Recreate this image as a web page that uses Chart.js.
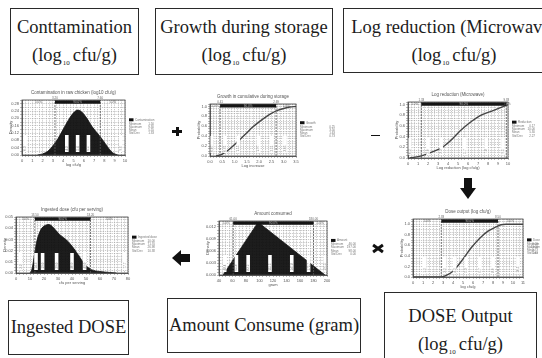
<!DOCTYPE html>
<html>
<head>
<meta charset="utf-8">
<script src="https://cdn.jsdelivr.net/npm/chart.js@4/dist/chart.umd.min.js"></script>
<style>
  html, body { margin: 0; padding: 0; background: #fff; }
  #stage { position: relative; width: 542px; height: 358px; overflow: hidden; background: #fff;
           font-family: "Liberation Serif", "Times New Roman", serif; color: #1c1c1c; }
  .box { position: absolute; box-sizing: border-box; border: 1.3px solid #2a2a2a; text-align: center;
         font-size: 18.5px; line-height: 28px; white-space: nowrap; }
  .box sub { font-size: 7px; vertical-align: -4px; line-height: 0; margin: 0 3px 0 1px; }
  canvas { position: absolute; }
  .shape { position: absolute; background: #111; }
  .tri { position: absolute; width: 0; height: 0; }
</style>
</head>
<body>
<div id="stage">
  <div class="box" style="left:10px;top:8px;width:129px;height:67px;padding-top:4px;">Conttamination<br>(log<sub>10</sub>cfu/g)</div>
  <div class="box" style="left:155px;top:8px;width:178px;height:67px;padding-top:4px;">Growth during storage<br>(log<sub>10</sub>cfu/g)</div>
  <div class="box" style="left:343px;top:8px;width:222px;height:65px;padding-top:4px;">Log reduction (Microwave)<br>(log<sub>10</sub>cfu/g)</div>
  <div class="box" style="left:8px;top:300px;width:121px;height:55px;padding-top:12px;">Ingested DOSE</div>
  <div class="box" style="left:167px;top:298px;width:194px;height:55px;padding-top:12px;">Amount Consume (gram)</div>
  <div class="box" style="left:384px;top:292px;width:153px;height:80px;padding-top:9px;">DOSE Output<br>(log<sub>10</sub>cfu/g)</div>

  <!-- operators between the model steps -->
  <div class="shape" style="left:172px;top:130px;width:10px;height:3px;"></div>
  <div class="shape" style="left:175.5px;top:127px;width:3px;height:9px;"></div>
  <div class="shape" style="left:371px;top:134.5px;width:9px;height:1.3px;"></div>
  <div class="shape" style="left:372px;top:246.5px;width:12px;height:3px;transform:rotate(35deg);"></div>
  <div class="shape" style="left:372px;top:246.5px;width:12px;height:3px;transform:rotate(-35deg);"></div>
  <div class="shape" style="left:464px;top:178px;width:8px;height:10px;"></div>
  <div class="tri" style="left:460px;top:188px;border-left:8px solid transparent;border-right:8px solid transparent;border-top:11px solid #111;"></div>
  <div class="tri" style="left:172px;top:250px;border-top:8px solid transparent;border-bottom:8px solid transparent;border-right:9px solid #111;"></div>
  <div class="shape" style="left:180px;top:254px;width:10px;height:8px;"></div>
</div>

<script>
// ---------------- model inputs and outputs ----------------
// Contamination (log10 cfu/g): density
const contamX = [1.5, 2.0, 2.5, 3.0, 3.5, 4.0, 4.5, 5.0, 5.4, 5.8, 6.3, 6.8, 7.3, 7.8, 8.3, 8.8, 9.3];
const contamY = [0.000, 0.006, 0.020, 0.050, 0.090, 0.140, 0.190, 0.230, 0.245, 0.235, 0.200, 0.155, 0.120, 0.085, 0.045, 0.012, 0.000];
const contamBar = [3.2, 7.6];
const contamMarks = [0.3, 4.35, 5.4, 6.45, 9.6];

// Growth during storage (log increase): cumulative
const growthX = [0.25, 0.5, 0.75, 1.0, 1.25, 1.5, 1.75, 2.0, 2.25, 2.5, 2.75, 3.0, 3.25, 3.5];
const growthY = [0.00, 0.04, 0.12, 0.23, 0.35, 0.47, 0.59, 0.69, 0.78, 0.86, 0.92, 0.96, 0.99, 1.00];
const growthBar = [0.41, 2.69];
const growthMarks = [0.07, 0.61, 1.15, 1.97, 2.51, 3.05];

// Log reduction by microwave: cumulative
const reductionX = [0.17, 1.33, 2.5, 3.5, 4.5, 5.17, 6.17, 7.17, 8.5, 10.0];
const reductionY = [0.00, 0.04, 0.12, 0.21, 0.37, 0.50, 0.66, 0.79, 0.89, 1.00];
const reductionBar = [1.33, 9.83];
const reductionMarks = [0.17, 2.0, 3.33, 5.67, 7.83, 9.5];

// Dose output (log10 cfu/g): cumulative
const doseX = [0, 2.8, 3.3, 4.0, 5.0, 5.8, 6.7, 7.5, 8.3, 8.8, 9.3, 11.0];
const doseY = [0, 0, 0.03, 0.11, 0.34, 0.55, 0.74, 0.87, 0.95, 0.99, 1.00, 1.00];
const doseBar = [2.83, 8.5];
const doseMarks = [1.17, 3.17, 4.17, 5.33, 6.67, 8.0, 10.5];

// Amount consumed (gram): triangular density
const amountX = [46, 98, 197];
const amountY = [0, 0.0132, 0];
const amountBar = [61, 180];
const amountMarks = [48.4, 65.8, 83.2, 115.5, 147.8, 172.7, 197.5];

// Ingested dose: density
const ingestedX = [10.0, 11.2, 12.4, 14.7, 17.1, 19.5, 23.8, 27.8, 31.4, 36.1, 40.9, 45.6, 49.2, 53.9, 59.9, 67.0, 71.7];
const ingestedY = [0, 0.0025, 0.0100, 0.0275, 0.0370, 0.0415, 0.0433, 0.0390, 0.0340, 0.0295, 0.0225, 0.0140, 0.0075, 0.0030, 0.0013, 0.0005, 0];
const ingestedBar = [13.5, 53.2];
const ingestedMarks = [3.3, 14.3, 19.0, 29.0, 40.0, 49.0, 77.7];

// ---------------- drawing ----------------
const SANS = '"Liberation Sans", Arial, sans-serif';

function summary(xs, ys, cumulative) {
  let w = [], m = [];
  if (cumulative) {
    for (let i = 1; i < xs.length; i++) { w.push(ys[i] - ys[i - 1]); m.push((xs[i] + xs[i - 1]) / 2); }
  } else { w = ys.slice(); m = xs.slice(); }
  const tw = w.reduce((a, b) => a + b, 0);
  const mean = m.reduce((a, x, i) => a + x * w[i], 0) / tw;
  const sd = Math.sqrt(m.reduce((a, x, i) => a + (x - mean) * (x - mean) * w[i], 0) / tw);
  return { min: Math.min(...xs), max: Math.max(...xs), mean, sd };
}

function onStep(v, step) {
  const q = v / step;
  return Math.abs(q - Math.round(q)) < 1e-6;
}

function makeChart(spec) {
  const r = spec.rect;
  const padL = 2, padT = 12, padB = 2, yW = 14, xH = 12;
  const w = (r.R - r.L) + padL + yW + r.legendW;
  const h = (r.B - r.T) + padT + xH + padB;
  const cv = document.createElement('canvas');
  cv.width = w; cv.height = h;
  cv.style.left = (r.L - padL - yW) + 'px';
  cv.style.top = (r.T - padT) + 'px';
  const stage = document.getElementById('stage');
  stage.insertBefore(cv, stage.firstChild);

  const barY = spec.yMax * 0.965;
  const st = summary(spec.xs, spec.ys, !spec.fill);

  const datasets = [
    { data: spec.xs.map((x, i) => ({ x, y: spec.ys[i] })),
      borderColor: spec.fill ? '#111' : '#454545', backgroundColor: 'rgba(12,12,12,0.93)',
      fill: spec.fill ? 'origin' : false, borderWidth: spec.fill ? 0.8 : 1.4, pointRadius: 0,
      tension: spec.tension, cubicInterpolationMode: spec.fill ? 'default' : 'monotone', order: 3 },
    { data: [{ x: spec.bar[0], y: spec.yMin }, { x: spec.bar[0], y: spec.yMax }],
      borderColor: '#555', borderWidth: 0.8, borderDash: [2, 1], pointRadius: 0, fill: false, order: 2 },
    { data: [{ x: spec.bar[1], y: spec.yMin }, { x: spec.bar[1], y: spec.yMax }],
      borderColor: '#555', borderWidth: 0.8, borderDash: [2, 1], pointRadius: 0, fill: false, order: 2 },
    { data: [{ x: spec.bar[0], y: barY }, { x: spec.bar[1], y: barY }],
      borderColor: '#151515', borderWidth: 3.5, pointRadius: 0, fill: false, order: 1 }
  ];

  const decor = {
    id: 'decor',
    afterDatasetsDraw(chart) {
      const { ctx, chartArea: a, scales: { x } } = chart;
      ctx.save();
      ctx.font = '3px ' + SANS;
      spec.marks.forEach(mk => {
        const px = x.getPixelForValue(mk);
        ctx.fillStyle = '#fff';
        ctx.fillRect(px - 1.8, a.bottom - 20, 3.6, 17);
        ctx.save();
        ctx.translate(px + 1, a.bottom - 4.5);
        ctx.rotate(-Math.PI / 2);
        ctx.fillStyle = '#808080';
        ctx.fillText(mk.toFixed(spec.xDec + 1), 0, 0);
        ctx.restore();
      });
      ctx.restore();
    },
    afterDraw(chart) {
      const { ctx, chartArea: a, scales: { x } } = chart;
      ctx.save();
      ctx.strokeStyle = '#444'; ctx.lineWidth = 0.8;
      ctx.strokeRect(a.left, a.top, a.right - a.left, a.bottom - a.top);
      // title
      ctx.fillStyle = '#555'; ctx.textAlign = 'center'; ctx.textBaseline = 'middle';
      ctx.font = '4.5px ' + SANS;
      ctx.fillText(spec.title, (a.left + a.right) / 2, a.top - 7);
      // delimiter bar labels
      const lo = x.getPixelForValue(spec.bar[0]), hi = x.getPixelForValue(spec.bar[1]);
      ctx.font = '3px ' + SANS;
      ctx.fillStyle = '#666';
      ctx.fillText(spec.bar[0].toFixed(2), lo, a.top - 2);
      ctx.fillText(spec.bar[1].toFixed(2), hi, a.top - 2);
      ctx.fillText('5.0%', (a.left + lo) / 2, a.top + 2.5);
      ctx.fillText('5.0%', (hi + a.right) / 2, a.top + 2.5);
      ctx.fillStyle = '#bbb';
      ctx.fillText('90.0%', (lo + hi) / 2, a.top + 2.5);
      // legend
      const lx = a.right + 4, ly = a.top + (a.bottom - a.top) * 0.36;
      ctx.fillStyle = '#111';
      ctx.fillRect(lx, ly - 1.5, 4.5, 3);
      ctx.fillStyle = '#777'; ctx.textAlign = 'left';
      ctx.fillText(spec.legend, lx + 6, ly);
      const rows = [['Minimum', st.min], ['Maximum', st.max], ['Mean', st.mean], ['Std Dev', st.sd]];
      rows.forEach((row, i) => {
        const yy = ly + 4 + i * 3.2;
        ctx.textAlign = 'left'; ctx.fillText(row[0], lx, yy);
        ctx.textAlign = 'right'; ctx.fillText(row[1].toFixed(2), a.right + spec.rect.legendW - 3, yy);
      });
      ctx.restore();
    }
  };

  const tickFont = { size: 4, family: SANS };
  const gridStyle = { color: '#9c9c9c', lineWidth: 0.7, tickLength: 2 };
  const borderStyle = { display: true, color: '#444', width: 0.8, dash: [0.8, 1] };
  return new Chart(cv, {
    type: 'line',
    data: { datasets },
    options: {
      responsive: false, animation: false, events: [],
      layout: { padding: { left: padL, top: padT, right: r.legendW, bottom: padB } },
      plugins: { legend: { display: false }, tooltip: { enabled: false } },
      scales: {
        x: {
          type: 'linear', min: spec.xMin, max: spec.xMax,
          ticks: { stepSize: spec.xStep, autoSkip: false, maxRotation: 0, font: tickFont, color: '#555', padding: 1,
                   callback: v => onStep(v - spec.xMin, spec.xLabelStep) ? v.toFixed(spec.xDec) : '' },
          grid: gridStyle, border: borderStyle,
          title: { display: true, text: spec.xTitle, font: tickFont, color: '#555', padding: 0 },
          afterFit: s => { s.height = xH; }
        },
        y: {
          type: 'linear', min: spec.yMin, max: spec.yMax,
          ticks: { stepSize: spec.yStep, autoSkip: false, font: tickFont, color: '#555', padding: 1,
                   callback: v => onStep(v, spec.yLabelStep) ? v.toFixed(spec.yDec) : '' },
          grid: gridStyle, border: borderStyle,
          title: { display: true, text: spec.yTitle, font: tickFont, color: '#555', padding: 0 },
          afterFit: s => { s.width = yW; }
        }
      }
    },
    plugins: [decor]
  });
}

makeChart({ rect: { L: 22, T: 100, R: 125, B: 155, legendW: 32 },
  xs: contamX, ys: contamY, fill: true, tension: 0.35, bar: contamBar, marks: contamMarks,
  xMin: 0, xMax: 10, xStep: 1 / 3, xLabelStep: 1, xDec: 0,
  yMin: 0, yMax: 0.30, yStep: 0.02, yLabelStep: 0.04, yDec: 2,
  title: 'Contamination in raw chicken (log10 cfu/g)', xTitle: 'log cfu/g', yTitle: 'Density',
  legend: 'Contamination' });

makeChart({ rect: { L: 210, T: 104, R: 296, B: 156, legendW: 42 },
  xs: growthX, ys: growthY, fill: false, tension: 0.3, bar: growthBar, marks: growthMarks,
  xMin: 0, xMax: 3.5, xStep: 0.125, xLabelStep: 0.5, xDec: 1,
  yMin: 0, yMax: 1.05, yStep: 0.05, yLabelStep: 0.2, yDec: 1,
  title: 'Growth in cumulative during storage', xTitle: 'Log increase', yTitle: 'Probability',
  legend: 'Growth' });

makeChart({ rect: { L: 408, T: 102, R: 508, B: 158, legendW: 30 },
  xs: reductionX, ys: reductionY, fill: false, tension: 0.3, bar: reductionBar, marks: reductionMarks,
  xMin: 0, xMax: 10, xStep: 1 / 3, xLabelStep: 1, xDec: 0,
  yMin: 0, yMax: 1.05, yStep: 0.05, yLabelStep: 0.2, yDec: 1,
  title: 'Log reduction (Microwave)', xTitle: 'Log reduction (log cfu/g)', yTitle: 'Probability',
  legend: 'Reduction' });

makeChart({ rect: { L: 413, T: 219, R: 523, B: 277, legendW: 18 },
  xs: doseX, ys: doseY, fill: false, tension: 0.3, bar: doseBar, marks: doseMarks,
  xMin: 0, xMax: 11, xStep: 1 / 3, xLabelStep: 1, xDec: 0,
  yMin: 0, yMax: 1.1, yStep: 0.05, yLabelStep: 0.2, yDec: 1,
  title: 'Dose output (log cfu/g)', xTitle: 'log cfu/g', yTitle: 'Probability',
  legend: 'Dose' });

makeChart({ rect: { L: 219, T: 221, R: 327, B: 275, legendW: 32 },
  xs: amountX, ys: amountY, fill: true, tension: 0, bar: amountBar, marks: amountMarks,
  xMin: 40, xMax: 200, xStep: 5, xLabelStep: 20, xDec: 0,
  yMin: 0, yMax: 0.0135, yStep: 0.00075, yLabelStep: 0.003, yDec: 3,
  title: 'Amount consumed', xTitle: 'gram', yTitle: 'Density',
  legend: 'Amount' });

makeChart({ rect: { L: 16, T: 217, R: 128, B: 273, legendW: 30 },
  xs: ingestedX, ys: ingestedY, fill: true, tension: 0.35, bar: ingestedBar, marks: ingestedMarks,
  xMin: 0, xMax: 80, xStep: 2.5, xLabelStep: 10, xDec: 0,
  yMin: 0, yMax: 0.05, yStep: 0.0025, yLabelStep: 0.01, yDec: 2,
  title: 'Ingested dose (cfu per serving)', xTitle: 'cfu per serving', yTitle: 'Density',
  legend: 'Ingested dose' });
</script>
</body>
</html>
